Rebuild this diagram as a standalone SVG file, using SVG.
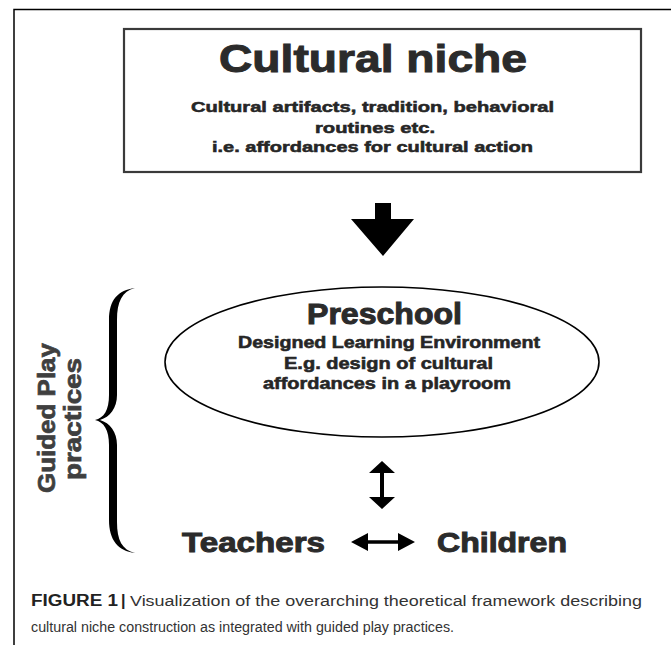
<svg xmlns="http://www.w3.org/2000/svg" width="671" height="645" viewBox="0 0 671 645">
  <style>
    .heavy { font-family: "Liberation Sans", Arial, sans-serif; font-weight: bold; fill: #2b2b2b; stroke: #2b2b2b; stroke-width: 1; }
    .sub { font-family: "Liberation Sans", Arial, sans-serif; font-weight: bold; fill: #262626; stroke: #262626; stroke-width: 0.55; }
    .side { font-family: "Liberation Sans", Arial, sans-serif; font-weight: bold; fill: #3f3f3f; stroke: #3f3f3f; stroke-width: 0.7; }
    .cap { font-family: "Liberation Sans", Arial, sans-serif; font-size: 15.5px; fill: #333; }
    .capb { font-family: "Liberation Sans", Arial, sans-serif; font-size: 16px; font-weight: bold; fill: #222; }
    .arrow { fill: #000; }
  </style>

  <rect width="671" height="645" fill="#fff"/>

  <!-- page frame: top and left rules -->
  <path d="M14 645 V9.5 H671" fill="none" stroke="#000" stroke-width="1.5"/>

  <!-- top box -->
  <g id="cultural-niche">
    <rect x="124" y="29" width="517" height="143" fill="#fff" stroke="#3a3a3a" stroke-width="2.2"/>
    <text class="heavy" x="219" y="72" font-size="39" textLength="308" lengthAdjust="spacingAndGlyphs">Cultural niche</text>
    <text class="sub" x="191" y="112" font-size="15.5" textLength="363" lengthAdjust="spacingAndGlyphs">Cultural artifacts, tradition, behavioral</text>
    <text class="sub" x="315" y="133" font-size="15.5" textLength="120" lengthAdjust="spacingAndGlyphs">routines etc.</text>
    <text class="sub" x="212" y="152" font-size="15.5" textLength="321" lengthAdjust="spacingAndGlyphs">i.e. affordances for cultural action</text>
  </g>

  <!-- preschool ellipse -->
  <g id="preschool">
    <ellipse cx="382" cy="362" rx="217" ry="75" fill="#fff" stroke="#000" stroke-width="1.6"/>
    <text class="heavy" x="307" y="324" font-size="29" textLength="155" lengthAdjust="spacingAndGlyphs">Preschool</text>
    <text class="sub" x="238" y="348" font-size="16" textLength="302" lengthAdjust="spacingAndGlyphs">Designed Learning Environment</text>
    <text class="sub" x="284" y="369" font-size="16" textLength="209" lengthAdjust="spacingAndGlyphs">E.g. design of cultural</text>
    <text class="sub" x="263" y="389" font-size="16" textLength="248" lengthAdjust="spacingAndGlyphs">affordances in a playroom</text>
  </g>

  <g id="teachers">
    <text class="heavy" x="182" y="552" font-size="28" textLength="143" lengthAdjust="spacingAndGlyphs">Teachers</text>
  </g>

  <g id="children">
    <text class="heavy" x="437" y="552" font-size="28" textLength="130" lengthAdjust="spacingAndGlyphs">Children</text>
  </g>

  <!-- brace with rotated label -->
  <g id="guided-play">
    <path d="M135 288 C118 290 109 300 109 320 L109 395 C109 410 104 418 95 420 C104 422 109 430 109 445 L109 520 C109 540 118 551 135 553 C122 550 117 540 117 522 L117 445 C117 432 110 423 100 420 C110 417 117 408 117 395 L117 320 C117 302 122 291 135 288 Z" fill="#000"/>
    <text class="side" transform="translate(55,493) rotate(-90)" font-size="23" textLength="150" lengthAdjust="spacingAndGlyphs">Guided Play</text>
    <text class="side" transform="translate(81,480) rotate(-90)" font-size="23" textLength="122" lengthAdjust="spacingAndGlyphs">practices</text>
  </g>

  <!-- connectors -->
  <g id="connectors">
    <polygon class="arrow" points="375,203 391,203 391,219 414,219 383,256 351,219 375,219"/>
    <polygon class="arrow" points="382,461 395,473 384,473 384,497 395,497 382,509 369,497 380,497 380,473 369,473"/>
    <polygon class="arrow" points="351,542 368,533 368,540.3 398,540.3 398,533 415,542 398,551 398,543.7 368,543.7 368,551"/>
  </g>

  <!-- caption -->
  <g id="caption">
    <text class="capb" x="31" y="606" textLength="87" lengthAdjust="spacingAndGlyphs">FIGURE 1</text>
    <text class="capb" x="121" y="606">|</text>
    <text class="cap" x="130" y="606" textLength="512" lengthAdjust="spacingAndGlyphs">Visualization of the overarching theoretical framework describing</text>
    <text class="cap" x="31" y="632" textLength="423" lengthAdjust="spacingAndGlyphs">cultural niche construction as integrated with guided play practices.</text>
  </g>
</svg>
